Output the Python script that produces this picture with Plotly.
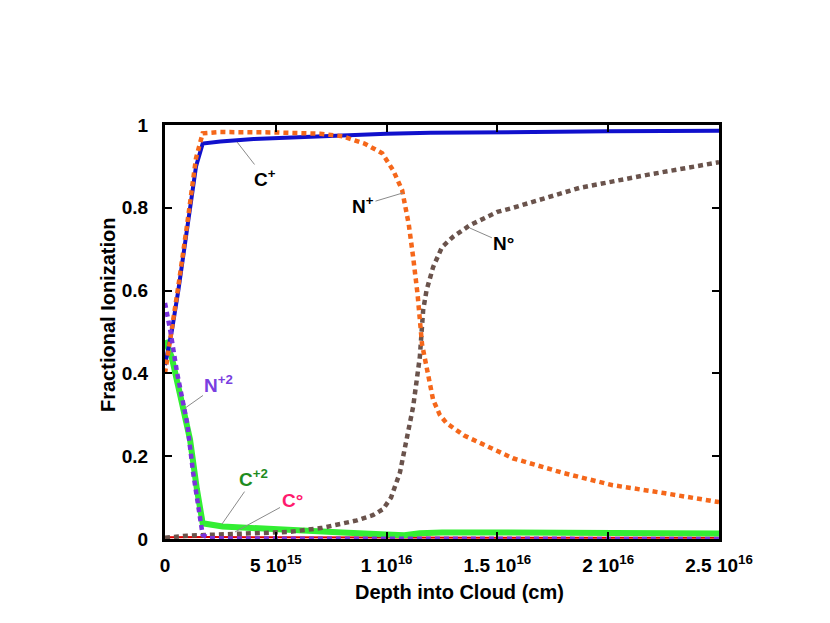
import plotly.graph_objects as go

# Depth into cloud in cm, fractions
depth_c1 = [0, 0.3e15, 0.6e15, 1.0e15, 1.4e15, 1.7e15, 2.5e15, 4e15, 6e15, 8e15,
            1.0e16, 1.2e16, 1.5e16, 2.0e16, 2.5e16]
frac_c1 = [0.42, 0.50, 0.60, 0.75, 0.90, 0.955, 0.960, 0.966, 0.971, 0.975,
           0.979, 0.981, 0.983, 0.985, 0.986]

depth_n1 = [0, 0.3e15, 0.6e15, 1.0e15, 1.4e15, 1.7e15, 2.5e15, 5e15, 7e15, 8e15,
            9e15, 9.8e15, 1.03e16, 1.07e16, 1.1e16, 1.12e16, 1.14e16, 1.16e16,
            1.19e16, 1.21e16, 1.24e16, 1.27e16, 1.35e16, 1.42e16, 1.57e16,
            1.8e16, 2.02e16, 2.25e16, 2.5e16]
frac_n1 = [0.40, 0.50, 0.61, 0.76, 0.92, 0.980, 0.983, 0.982, 0.979, 0.973,
           0.955, 0.932, 0.890, 0.843, 0.760, 0.680, 0.590, 0.470,
           0.390, 0.336, 0.300, 0.280, 0.250, 0.232, 0.195,
           0.159, 0.130, 0.111, 0.089]

depth_n0 = [0, 1e15, 2e15, 3e15, 4e15, 5.6e15, 7.1e15, 8.66e15, 9.4e15, 9.84e15,
            1.02e16, 1.06e16, 1.09e16, 1.12e16, 1.15e16, 1.165e16, 1.18e16, 1.21e16,
            1.25e16, 1.3e16, 1.376e16, 1.5e16, 1.57e16, 1.87e16, 2.17e16, 2.5e16]
frac_n0 = [0.003, 0.008, 0.010, 0.012, 0.014, 0.017, 0.027, 0.045, 0.058, 0.072,
           0.100, 0.160, 0.240, 0.320, 0.440, 0.553, 0.600, 0.657,
           0.705, 0.730, 0.758, 0.790, 0.800, 0.848, 0.879, 0.910]

depth_c2 = [0, 0.3e15, 0.8e15, 1.13e15, 1.44e15, 1.7e15, 2.6e15, 4.1e15, 6e15, 8e15,
            1.0e16, 1.08e16, 1.15e16, 1.25e16, 1.5e16, 2.0e16, 2.5e16]
frac_c2 = [0.48, 0.44, 0.32, 0.24, 0.12, 0.038, 0.030, 0.027, 0.021, 0.016,
           0.011, 0.009, 0.014, 0.016, 0.016, 0.015, 0.013]

depth_n2 = [0, 0.25e15, 0.55e15, 1.0e15, 1.27e15, 1.58e15, 1.7e15, 2.0e15, 3e15, 2.5e16]
frac_n2 = [0.57, 0.50, 0.40, 0.28, 0.16, 0.046, 0.010, 0.002, 0.001, 0.0]

depth_c0 = [0, 2e15, 5e15, 1e16, 1.5e16, 2e16, 2.5e16]
frac_c0 = [0.004, 0.005, 0.004, 0.003, 0.003, 0.003, 0.003]

x_tickvals = [0, 5e15, 1e16, 1.5e16, 2e16, 2.5e16]
x_ticktext = ['0', '5 10<sup>15</sup>', '1 10<sup>16</sup>', '1.5 10<sup>16</sup>',
              '2 10<sup>16</sup>', '2.5 10<sup>16</sup>']

dots = '5px,4px'

fig = go.Figure()
fig.add_trace(go.Scatter(x=depth_c0, y=frac_c0, mode='lines', name='C0',
                         line=dict(color='#e00000', width=2)))
fig.add_trace(go.Scatter(x=depth_c2, y=frac_c2, mode='lines', name='C+2',
                         line=dict(color='#33ee33', width=6)))
fig.add_trace(go.Scatter(x=depth_c1, y=frac_c1, mode='lines', name='C+',
                         line=dict(color='#1010cc', width=4)))
fig.add_trace(go.Scatter(x=depth_n0, y=frac_n0, mode='lines', name='N0',
                         line=dict(color='#6a534c', width=4.5, dash=dots)))
fig.add_trace(go.Scatter(x=depth_n1, y=frac_n1, mode='lines', name='N+',
                         line=dict(color='#f5671a', width=4.5, dash=dots)))
fig.add_trace(go.Scatter(x=depth_n2, y=frac_n2, mode='lines', name='N+2',
                         line=dict(color='#7a32dc', width=4.5, dash=dots)))

# labels with thin leader lines
labels = [
    ('C<sup>+</sup>', 3.25e15, 0.959, 28, 36, 'black'),
    ('N<sup>+</sup>', 1.074e16, 0.836, -40, 12, 'black'),
    ('N°', 1.376e16, 0.751, 34, 15, 'black'),
    ('N<sup>+2</sup>', 0.9e15, 0.316, 34, -24, '#7a3fe0'),
    ('C<sup>+2</sup>', 2.57e15, 0.036, 32, -46, '#1e8c1e'),
    ('C°', 3.16e15, 0.017, 57, -31, '#ff1a6e'),
]
for txt, lx, ly, ax, ay, col in labels:
    fig.add_annotation(x=lx, y=ly, text=txt, showarrow=True, arrowhead=0,
                       arrowwidth=1, arrowcolor='#8a8a8a', ax=ax, ay=ay,
                       font=dict(size=19, color=col, family='Liberation Sans'))

# axis titles sit a bit off-centre in the original, so place them by hand
fig.add_annotation(text='Depth into Cloud (cm)', xref='paper', yref='paper',
                   x=0.5, y=0, xshift=17, yshift=-53, yanchor='middle',
                   showarrow=False, font=dict(size=20))
fig.add_annotation(text='Fractional Ionization', xref='paper', yref='paper',
                   x=0, y=0.5, xshift=-57, yshift=17, xanchor='center',
                   textangle=-90, showarrow=False, font=dict(size=20))

fig.update_xaxes(range=[0, 2.5e16], tickvals=x_tickvals, ticktext=x_ticktext,
                 showline=True, linecolor='black', linewidth=3, mirror='ticks',
                 ticks='inside', ticklen=7, tickwidth=1.5, tickcolor='black',
                 showgrid=False, zeroline=False,
                 tickfont=dict(size=19), ticklabelstandoff=7)
fig.update_yaxes(range=[0, 1], dtick=0.2,
                 showline=True, linecolor='black', linewidth=3, mirror='ticks',
                 ticks='inside', ticklen=7, tickwidth=1.5, tickcolor='black',
                 showgrid=False, zeroline=False,
                 tickfont=dict(size=19), ticklabelstandoff=10)
# the page adds an 8px body margin, so the plot box is shifted back by that much
fig.update_layout(width=830, height=623, showlegend=False,
                  plot_bgcolor='white', paper_bgcolor='white',
                  font=dict(family='Liberation Sans', color='black', weight='bold'),
                  margin=dict(l=157, r=119, t=117, b=92))
fig.write_html('out.html')
